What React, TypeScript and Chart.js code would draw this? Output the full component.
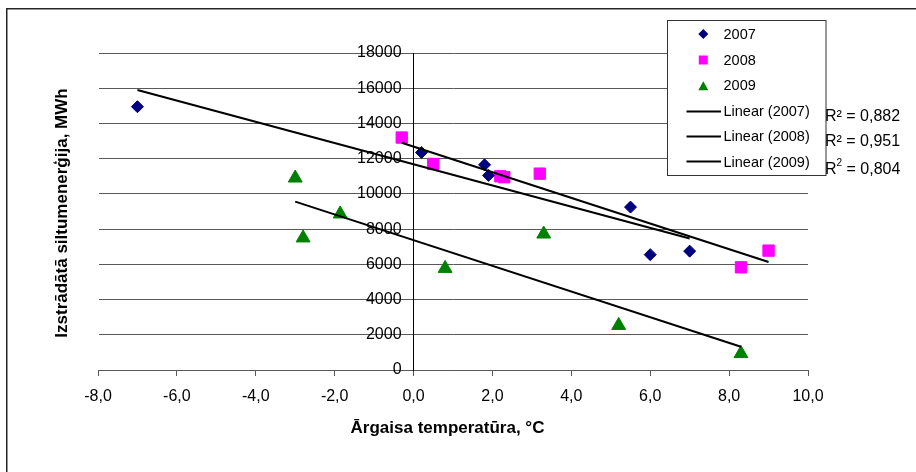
import React, { useEffect, useRef } from 'react';
import { Chart, registerables } from 'chart.js';

Chart.register(...registerables);

// ---- data ----
const SERIES_NAMES = ['2007', '2008', '2009'];
const X_2007 = [-7.0, 0.2, 1.8, 1.9, 5.5, 6.0, 7.0];
const Y_2007 = [14950, 12350, 11650, 11050, 9250, 6550, 6750];
const X_2008 = [-0.3, 0.5, 2.2, 2.3, 3.2, 8.3, 9.0];
const Y_2008 = [13200, 11700, 11000, 10950, 11150, 5830, 6780];
const X_2009 = [-3.0, -2.8, -1.86, 0.8, 3.3, 5.2, 8.3];
const Y_2009 = [10900, 7500, 8860, 5770, 7720, 2530, 930];

const TREND_NAMES = ['Linear (2007)', 'Linear (2008)', 'Linear (2009)'];
const TREND_X_2007 = [-7.0, 7.0];
const TREND_Y_2007 = [15900, 7470];
const TREND_X_2008 = [-0.3, 9.0];
const TREND_Y_2008 = [12900, 6130];
const TREND_X_2009 = [-3.0, 8.3];
const TREND_Y_2009 = [9560, 1320];
const R2_VALUES = ['0,882', '0,951', '0,804'];

const X_TICKS = [-8, -6, -4, -2, 0, 2, 4, 6, 8, 10];
const X_TICK_LABELS = ['-8,0', '-6,0', '-4,0', '-2,0', '0,0', '2,0', '4,0', '6,0', '8,0', '10,0'];
const Y_TICKS = [0, 2000, 4000, 6000, 8000, 10000, 12000, 14000, 16000, 18000];
const Y_TICK_LABELS = ['0', '2000', '4000', '6000', '8000', '10000', '12000', '14000', '16000', '18000'];

const X_TITLE = 'Ārgaisa temperatūra, °C';
const Y_TITLE = 'Izstrādātā siltumenerģija, MWh';

const COLORS = ['#000080', '#FF00FF', '#008000'];
const FONT = "'Liberation Sans', Arial, sans-serif";
const Y_AXIS_BOX = 60;

const pts = (xs: number[], ys: number[]) => xs.map((x, i) => ({ x, y: ys[i] }));

function drawMarker(ctx: CanvasRenderingContext2D, kind: number, x: number, y: number) {
  ctx.save();
  ctx.fillStyle = COLORS[kind];
  ctx.beginPath();
  if (kind === 0) {
    const r = 5;
    ctx.moveTo(x - r, y);
    ctx.lineTo(x, y - r);
    ctx.lineTo(x + r, y);
    ctx.lineTo(x, y + r);
  } else if (kind === 1) {
    ctx.rect(x - 4.5, y - 4.5, 9, 9);
  } else {
    ctx.moveTo(x, y - 4.5);
    ctx.lineTo(x + 5, y + 4.5);
    ctx.lineTo(x - 5, y + 4.5);
  }
  ctx.closePath();
  ctx.fill();
  ctx.restore();
}

// move the value axis onto x = 0 after layout
const crossAxisPlugin = {
  id: 'crossAxis',
  afterLayout(chart: any) {
    const xs = chart.scales.x;
    const ys = chart.scales.y;
    const x0 = xs.getPixelForValue(0);
    ys.right = x0;
    ys.left = x0 - Y_AXIS_BOX;
  },
};

const overlayPlugin = {
  id: 'overlay',
  beforeDraw(chart: any) {
    const ctx = chart.ctx as CanvasRenderingContext2D;
    ctx.save();
    ctx.fillStyle = '#ffffff';
    ctx.fillRect(0, 0, chart.width, chart.height);
    ctx.restore();
  },
  afterDraw(chart: any) {
    const ctx = chart.ctx as CanvasRenderingContext2D;
    ctx.save();
    // outer frame
    ctx.strokeStyle = '#262626';
    ctx.lineWidth = 1.5;
    ctx.strokeRect(6.75, 8.75, 1000, 1000);

    // axis titles
    ctx.fillStyle = '#000';
    ctx.font = `bold 17px ${FONT}`;
    ctx.textAlign = 'center';
    ctx.textBaseline = 'alphabetic';
    ctx.fillText(X_TITLE, 447.5, 433);
    ctx.save();
    ctx.translate(66.5, 213);
    ctx.rotate(-Math.PI / 2);
    ctx.fillText(Y_TITLE, 0, 0);
    ctx.restore();

    // legend
    const lx = 667.5, ly = 20.5, lw = 158.5, lh = 155;
    ctx.fillStyle = '#fff';
    ctx.fillRect(lx, ly, lw, lh);
    ctx.strokeStyle = '#333';
    ctx.lineWidth = 1;
    ctx.strokeRect(lx, ly, lw, lh);
    const baselines = [39, 65, 90, 115.7, 141, 166.5];
    const markerY = [34, 60, 85.7];
    const lineY = [111.5, 136.5, 161.5];
    ctx.font = `14.5px ${FONT}`;
    ctx.textAlign = 'left';
    ctx.fillStyle = '#000';
    SERIES_NAMES.forEach((name, i) => {
      drawMarker(ctx, i, 703.3, markerY[i]);
      ctx.fillStyle = '#000';
      ctx.fillText(name, 723.5, baselines[i]);
    });
    TREND_NAMES.forEach((name, i) => {
      ctx.strokeStyle = '#000';
      ctx.lineWidth = 2;
      ctx.beginPath();
      ctx.moveTo(686.5, lineY[i]);
      ctx.lineTo(721, lineY[i]);
      ctx.stroke();
      ctx.fillStyle = '#000';
      ctx.fillText(name, 723.5, baselines[3 + i]);
    });

    // R² labels
    ctx.font = `16px ${FONT}`;
    ctx.fillStyle = '#000';
    ctx.fillText('R² = ' + R2_VALUES[0], 825, 121);
    ctx.fillText('R² = ' + R2_VALUES[1], 825, 145.7);
    ctx.fillText('R', 825, 174);
    const rw = ctx.measureText('R').width;
    ctx.font = `10px ${FONT}`;
    ctx.fillText('2', 825 + rw, 166);
    const w2 = ctx.measureText('2').width;
    ctx.font = `16px ${FONT}`;
    ctx.fillText(' = ' + R2_VALUES[2], 825 + rw + w2, 174);
    ctx.restore();
  },
};

export default function App() {
  const ref = useRef<HTMLCanvasElement | null>(null);
  useEffect(() => {
    if (!ref.current) return;
    const markerStyles = ['rectRot', 'rect', 'triangle'];
    const markerRadius = [6, 8, 8];
    const xs = [X_2007, X_2008, X_2009];
    const ys = [Y_2007, Y_2008, Y_2009];
    const txs = [TREND_X_2007, TREND_X_2008, TREND_X_2009];
    const tys = [TREND_Y_2007, TREND_Y_2008, TREND_Y_2009];
    const datasets: any[] = [];
    SERIES_NAMES.forEach((name, i) => {
      datasets.push({
        label: name,
        data: pts(xs[i], ys[i]),
        pointStyle: markerStyles[i],
        pointRadius: markerRadius[i],
        pointBackgroundColor: COLORS[i],
        pointBorderColor: COLORS[i],
        pointBorderWidth: 1,
        backgroundColor: COLORS[i],
        borderColor: COLORS[i],
        showLine: false,
        order: 2,
      });
    });
    TREND_NAMES.forEach((name, i) => {
      datasets.push({
        label: name,
        data: pts(txs[i], tys[i]),
        showLine: true,
        borderColor: '#000',
        borderWidth: 2,
        pointRadius: 0,
        fill: false,
        order: 1,
      });
    });

    const chart = new Chart(ref.current, {
      type: 'scatter',
      data: { datasets },
      plugins: [crossAxisPlugin, overlayPlugin],
      options: {
        animation: false,
        responsive: true,
        maintainAspectRatio: false,
        layout: { padding: { left: 98 - Y_AXIS_BOX, right: 108, top: 53, bottom: 102 } },
        plugins: { legend: { display: false }, tooltip: { enabled: false } },
        scales: {
          x: {
            type: 'linear',
            position: { y: 0 } as any,
            min: -8,
            max: 10,
            afterBuildTicks: (scale: any) => {
              scale.ticks = X_TICKS.map((v) => ({ value: v }));
            },
            ticks: {
              color: '#000',
              font: { family: FONT, size: 16 },
              padding: 12,
              maxRotation: 0,
              callback: (v: any) => {
                const idx = X_TICKS.indexOf(Number(v));
                return idx >= 0 ? X_TICK_LABELS[idx] : '';
              },
            },
            grid: { drawOnChartArea: false, drawTicks: true, tickLength: 5, color: '#595959', lineWidth: 1 },
            border: { display: true, color: '#595959', width: 1 },
          },
          y: {
            type: 'linear',
            position: 'left',
            min: 0,
            max: 18000,
            afterFit: (scale: any) => {
              scale.width = Y_AXIS_BOX;
            },
            afterBuildTicks: (scale: any) => {
              scale.ticks = Y_TICKS.map((v) => ({ value: v }));
            },
            ticks: {
              color: '#000',
              font: { family: FONT, size: 16 },
              padding: 7,
              callback: (v: any) => {
                const idx = Y_TICKS.indexOf(Number(v));
                return idx >= 0 ? Y_TICK_LABELS[idx] : '';
              },
            },
            grid: { drawOnChartArea: true, drawTicks: true, tickLength: 5, color: '#595959', lineWidth: 1 },
            border: { display: true, color: '#000', width: 1 },
          },
        },
      },
    });
    return () => chart.destroy();
  }, []);

  return (
    <div style={{ position: 'absolute', left: 0, top: 0, width: 916, height: 472, background: '#fff' }}>
      <canvas ref={ref} />
    </div>
  );
}
